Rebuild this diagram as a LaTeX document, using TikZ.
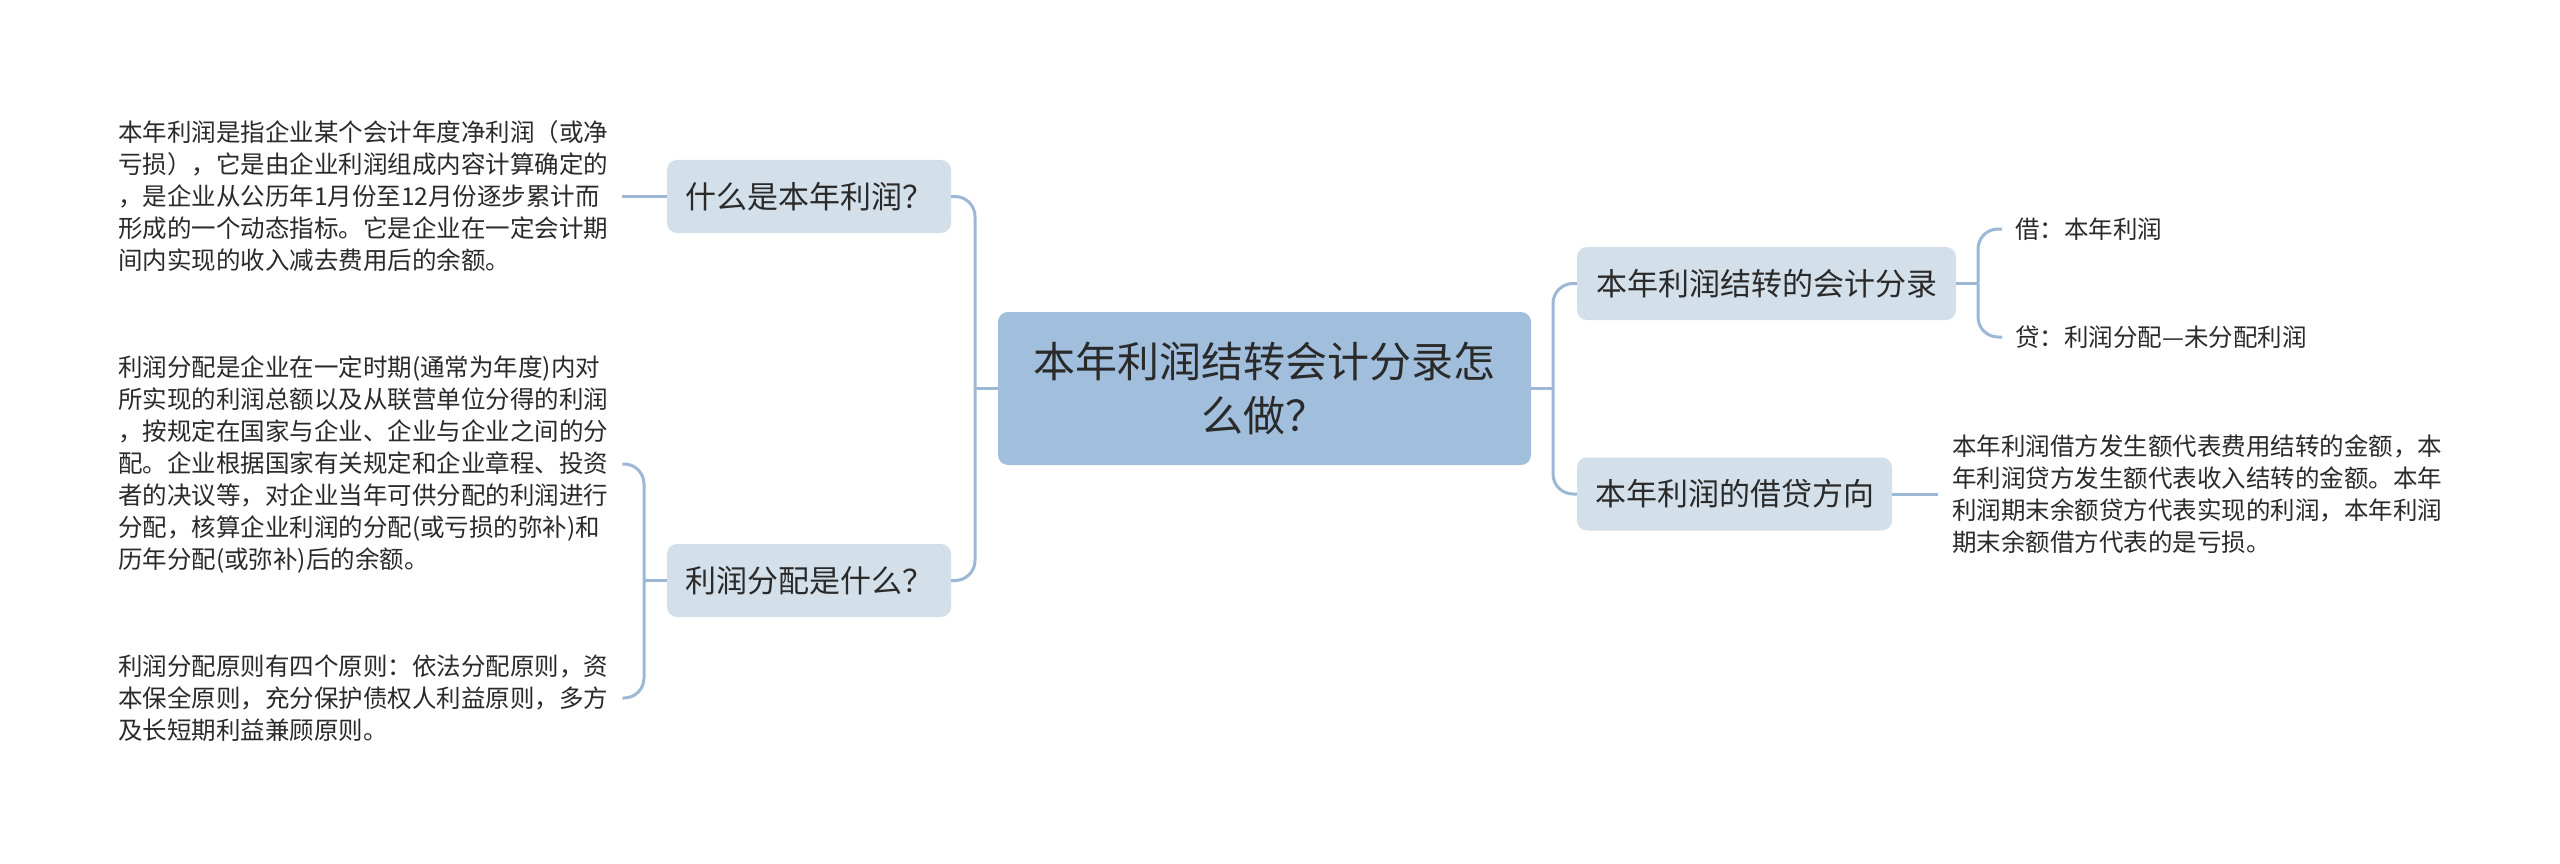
\documentclass[tikz,border=0pt]{standalone}
\usepackage{fontspec}
\setmainfont{Noto Sans CJK SC}
\definecolor{mainfill}{RGB}{161,191,220}
\definecolor{subfill}{RGB}{211,223,233}
\definecolor{linec}{RGB}{156,184,213}
\definecolor{txt}{RGB}{42,42,42}
\begin{document}
\begin{tikzpicture}[x=1pt,y=-1pt,
  mainbox/.style={fill=mainfill, rounded corners=10pt, minimum width=533pt, minimum height=153pt,
    font=\fontsize{42}{54}\selectfont, align=center, text=txt, inner sep=0pt},
  subbox/.style={fill=subfill, rounded corners=10pt, minimum height=73pt,
    font=\fontsize{31}{38}\selectfont, text=txt, inner sep=0pt},
  leaftext/.style={font=\fontsize{24.5}{32}\selectfont, align=left, text=txt,
    inner ysep=0pt, inner xsep=14pt, anchor=west},
  conn/.style={draw=linec, line width=3pt},
  branch/.style={conn, rounded corners=20pt}]
\fill[white] (0,0) rectangle (2560,864);
\useasboundingbox (0,0) rectangle (2560,864);

% central topic
\node[mainbox] (c) at (1264.5,388.5) {本年利润结转会计分录怎\\么做？};

% main branches
\node[subbox, minimum width=284pt] (n1) at (809,196.5) {什么是本年利润？};
\node[subbox, minimum width=284pt] (n2) at (809,580.5) {利润分配是什么？};
\node[subbox, minimum width=379pt] (r1) at (1766.5,283.5) {本年利润结转的会计分录};
\node[subbox, minimum width=315pt] (r2) at (1734.5,494) {本年利润的借贷方向};

% leaves
\node[leaftext] (l1) at (104,196.5) {本年利润是指企业某个会计年度净利润（或净\\
亏损），它是由企业利润组成内容计算确定的\\
，是企业从公历年1月份至12月份逐步累计而\\
形成的一个动态指标。它是企业在一定会计期\\
间内实现的收入减去费用后的余额。};
\node[leaftext] (l2) at (104,464) {利润分配是企业在一定时期(通常为年度)内对\\
所实现的利润总额以及从联营单位分得的利润\\
，按规定在国家与企业、企业与企业之间的分\\
配。企业根据国家有关规定和企业章程、投资\\
者的决议等，对企业当年可供分配的利润进行\\
分配，核算企业利润的分配(或亏损的弥补)和\\
历年分配(或弥补)后的余额。};
\node[leaftext] (l3) at (104,698) {利润分配原则有四个原则：依法分配原则，资\\
本保全原则，充分保护债权人利益原则，多方\\
及长短期利益兼顾原则。};
\node[leaftext] (rt) at (1938,494) {本年利润借方发生额代表费用结转的金额，本\\
年利润贷方发生额代表收入结转的金额。本年\\
利润期末余额贷方代表实现的利润，本年利润\\
期末余额借方代表的是亏损。};
\node[leaftext, inner xsep=13pt] (d1) at (2002,229) {借：本年利润};
\node[leaftext, inner xsep=13pt] (d2) at (2002,337) {贷：利润分配—未分配利润};

% junction points
\coordinate (lt) at (975,388.5);
\coordinate (lj) at (644,580.5);
\coordinate (rtj) at (1553,388.5);
\coordinate (rj) at (1978,283.5);

% connectors
\draw[conn] (c.west) -- (lt);
\draw[branch] (lt) |- (n1.east);
\draw[branch] (lt) |- (n2.east);
\draw[conn] (n1.west) -- (l1.east);
\draw[conn] (n2.west) -- (lj);
\draw[branch] (lj) |- (l2.east);
\draw[branch] (lj) |- (l3.east);
\draw[conn] (c.east) -- (rtj);
\draw[branch] (rtj) |- (r1.west);
\draw[branch] (rtj) |- (r2.west);
\draw[conn] (r1.east) -- (rj);
\draw[branch] (rj) |- (d1.west);
\draw[branch] (rj) |- (d2.west);
\draw[conn] (r2.east) -- (rt.west);
\end{tikzpicture}
\end{document}
